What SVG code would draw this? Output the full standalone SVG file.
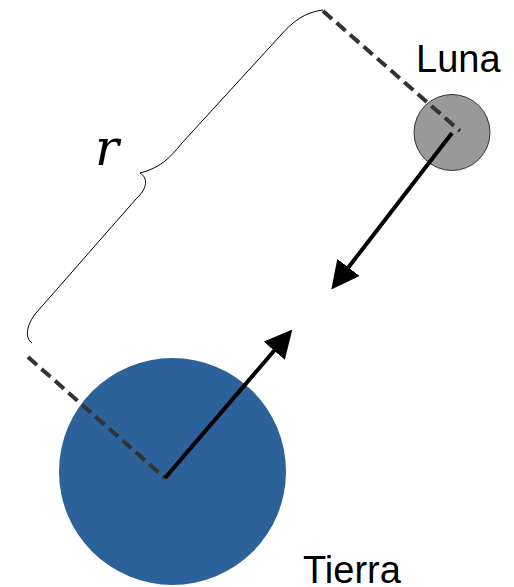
<svg xmlns="http://www.w3.org/2000/svg" width="514" height="587" viewBox="0 0 514 587">
<style>
.lbl{font-family:"Liberation Sans",Arial,sans-serif;font-size:38px;fill:#000}
.dash{stroke:#333;stroke-width:4;stroke-dasharray:12 6;fill:none}
.arrow{stroke:#000;stroke-width:4;fill:none;marker-end:url(#ah)}
.brace{stroke:#000;stroke-width:1;fill:none}
</style>
<defs>
<marker id="ah" viewBox="0 0 28 28" refX="0.5" refY="14" markerWidth="28" markerHeight="28" markerUnits="userSpaceOnUse" orient="auto">
<path d="M0,0 L28,14 L0,28 z" fill="#000"/>
</marker>
</defs>
<rect width="514" height="587" fill="#fff"/>
<g id="tierra">
<circle cx="172.5" cy="471.5" r="113.5" fill="#2c6199"/>
<text class="lbl" x="303" y="583">Tierra</text>
</g>
<g id="luna">
<circle cx="452" cy="132.5" r="38" fill="#999" stroke="#333" stroke-width="1"/>
<text class="lbl" x="416" y="72">Luna</text>
</g>
<g id="connectors">
<line class="dash" x1="28" y1="357" x2="165" y2="478"/>
<line class="dash" x1="323" y1="11" x2="460" y2="131"/>
<line class="arrow" x1="165" y1="478" x2="274.5" y2="350.3"/>
<line class="arrow" x1="452" y1="133" x2="348.1" y2="267.8"/>
<path class="brace" d="M323,10 C305,12 292,22 280,36 L182,143 C170,158 160,168 140,173 C148,178 148,188 136,199 L36,313 C27,324 24,338 32,343"/>
</g>
<text x="95" y="165" font-family="'DejaVu Serif','Liberation Serif',serif" font-style="italic" font-size="50">r</text>
</svg>
